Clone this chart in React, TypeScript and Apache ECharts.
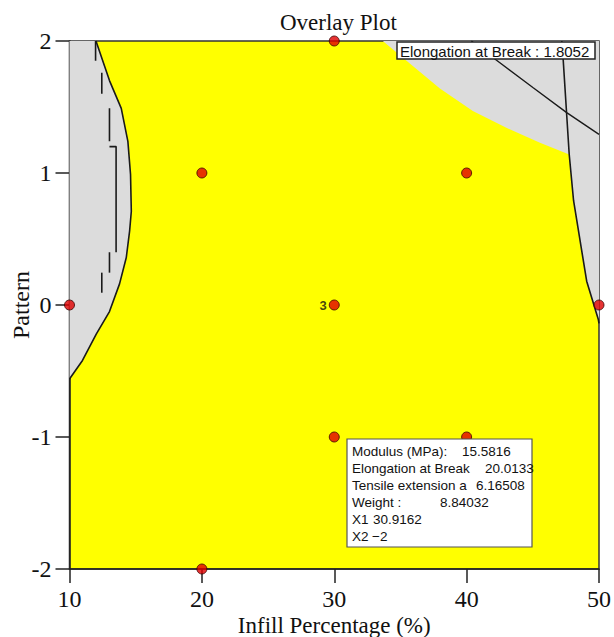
import React, { useEffect, useRef } from "react";
import * as echarts from "echarts";

// ---- data ----
const xTicks = [10, 20, 30, 40, 50];
const yTicks = [-2, -1, 0, 1, 2];
const designPoints: [number, number][] = [
  [10, 0], [20, 1], [20, -2], [30, 2], [30, 0], [30, -1], [40, 1], [40, -1], [50, 0],
];
const centerPoint: [number, number] = [30, 0];
const centerReplicates = "3";

// left grey (out-of-spec) region boundary (X1, X2)
const leftGrayBoundary: [number, number][] = [
  [12.0, 2], [13.02, 1.7], [13.91, 1.49], [14.41, 1.24], [14.61, 0.99], [14.67, 0.71],
  [14.54, 0.56], [14.29, 0.36], [13.78, 0.16], [13.02, -0.05], [12.02, -0.22],
  [10.98, -0.42], [10, -0.56],
];
// dashed contour inside left grey region
const leftDashSegments: [number, number][][] = [
  [[11.97, 2.0], [11.97, 1.85]],
  [[12.44, 1.76], [12.44, 1.6]],
  [[13.02, 1.49], [13.02, 1.24]],
  [[13.02, 1.2], [13.52, 1.2], [13.52, 0.4]],
  [[13.02, 0.4], [13.02, 0.245]],
  [[12.44, 0.245], [12.44, 0.093]],
];
// top-right grey boundary (no contour line)
const topRightBoundary: [number, number][] = [
  [33.67, 2], [35.71, 1.83], [37.98, 1.64], [40.47, 1.47], [43.04, 1.34], [45.54, 1.23],
];
// right contour line (Elongation at Break = 1.8052)
const rightContour: [number, number][] = [
  [47.19, 2], [47.3, 1.85], [47.75, 1.14], [48.08, 0.79], [49.07, 0.18], [49.95, -0.11], [50, -0.14],
];
// second contour line in the top-right corner
const topRightContour: [number, number][] = [
  [40.36, 2], [42.26, 1.854], [45.03, 1.646], [47.56, 1.457], [50, 1.293],
];

const contourLabel = "Elongation at Break : 1.8052";
const infoLabels = ["Modulus (MPa):", "Elongation at Break", "Tensile extension a", "Weight :", "X1", "X2"];
const infoValues = ["15.5816", "20.0133", "6.16508", "8.84032", "30.9162", "\u22122"];

export default function App() {
  const ref = useRef<HTMLDivElement>(null);
  useEffect(() => {
    if (!ref.current) return;
    const chart = echarts.init(ref.current, null, { renderer: "svg" });

    const leftPoly = [[10, 2] as [number, number], ...leftGrayBoundary];
    const rightPoly = [...topRightBoundary, ...rightContour.slice(2), [50, 2] as [number, number]];

    const polySeries = (pts: [number, number][], color: string) => ({
      type: "custom",
      coordinateSystem: "cartesian2d",
      silent: true,
      z: 1,
      data: [0],
      renderItem: (_p: any, api: any) => ({
        type: "polygon",
        shape: { points: pts.map((p) => api.coord(p)) },
        style: { fill: color },
      }),
    });

    const lineSeries = (pts: [number, number][], width = 1.6) => ({
      type: "line",
      data: pts,
      showSymbol: false,
      symbol: "none",
      silent: true,
      z: 3,
      lineStyle: { color: "#1a1a1a", width },
    });

    const serif = "'Liberation Serif', 'Times New Roman', serif";
    const sans = "'Liberation Sans', Arial, sans-serif";

    const infoGraphics: any[] = [];
    const valueX = [462, 485, 476, 440, 373, 372];
    infoLabels.forEach((l, i) => {
      const y = 451.7 + i * 16.9;
      infoGraphics.push({
        type: "text", x: 352, y, z: 101,
        style: { text: l, font: `13.5px ${sans}`, fill: "#111", verticalAlign: "middle" },
      });
      infoGraphics.push({
        type: "text", x: valueX[i], y, z: 101,
        style: { text: infoValues[i], font: `13.5px ${sans}`, fill: "#111", verticalAlign: "middle" },
      });
    });

    chart.setOption({
      animation: false,
      title: {
        text: "Overlay Plot",
        left: 280,
        top: 11,
        padding: 0,
        textStyle: { fontFamily: serif, fontSize: 23, fontWeight: "normal", color: "#111" },
      },
      grid: {
        left: 69.5, right: 15, top: 41, bottom: 68,
        show: true, backgroundColor: "#ffff00", borderColor: "#333", borderWidth: 1.5,
        containLabel: false,
        outerBoundsMode: "none",
      },
      xAxis: {
        type: "value", min: 10, max: 50, interval: 10,
        name: "Infill Percentage (%)", nameLocation: "middle", nameGap: 45, nameMoveOverlap: false,
        nameTextStyle: { fontFamily: serif, fontSize: 23, color: "#111" },
        axisLine: { show: true, onZero: false, lineStyle: { color: "#222", width: 1.5 } },
        axisTick: { show: true, inside: false, length: 14, lineStyle: { color: "#222", width: 1.5 } },
        axisLabel: { fontFamily: serif, fontSize: 24, color: "#111", margin: 18, formatter: (v: number) => (xTicks.includes(v) ? String(v) : "") },
        splitLine: { show: false },
      },
      yAxis: {
        type: "value", min: -2, max: 2, interval: 1,
        name: "Pattern", nameLocation: "middle", nameGap: 37, nameRotate: 90, nameMoveOverlap: false,
        nameTextStyle: { fontFamily: serif, fontSize: 24, color: "#111" },
        axisLine: { show: true, onZero: false, lineStyle: { color: "#222", width: 1.5 } },
        axisTick: { show: true, inside: false, length: 14, lineStyle: { color: "#222", width: 1.5 } },
        axisLabel: { fontFamily: serif, fontSize: 24, color: "#111", margin: 18, formatter: (v: number) => (yTicks.includes(v) ? String(v) : "") },
        splitLine: { show: false },
      },
      graphic: [
        {
          type: "rect", z: 100,
          shape: { x: 397, y: 42, width: 198, height: 17 },
          style: { fill: "#fff", stroke: "#222", lineWidth: 1.5 },
        },
        {
          type: "text", x: 400, y: 51, z: 101,
          style: { text: contourLabel, font: `15px ${sans}`, fill: "#111", verticalAlign: "middle" },
        },
        {
          type: "rect", z: 100,
          shape: { x: 347, y: 439, width: 185, height: 108 },
          style: { fill: "#fff", stroke: "#555", lineWidth: 1.2 },
        },
        ...infoGraphics,
      ],
      series: [
        polySeries(leftPoly, "#dcdcdc"),
        polySeries(rightPoly, "#dcdcdc"),
        lineSeries(leftGrayBoundary, 1.6),
        ...leftDashSegments.map((s) => lineSeries(s, 1.6)),
        lineSeries(rightContour, 1.6),
        lineSeries(topRightContour, 1.4),
        {
          type: "scatter",
          z: 10,
          symbol: "circle",
          symbolSize: 10,
          itemStyle: { color: "#e00000", borderColor: "#3a0000", borderWidth: 1 },
          data: designPoints.map((p) =>
            p[0] === centerPoint[0] && p[1] === centerPoint[1]
              ? {
                  value: p,
                  label: {
                    show: true, position: "left", distance: 2, formatter: centerReplicates,
                    fontFamily: sans, fontWeight: "bold", fontSize: 13, color: "#111",
                  },
                }
              : { value: p }
          ),
        },
      ],
    });
    return () => chart.dispose();
  }, []);
  return <div ref={ref} style={{ width: 614, height: 637, position: "absolute", left: 0, top: 0, background: "#fff" }} />;
}
